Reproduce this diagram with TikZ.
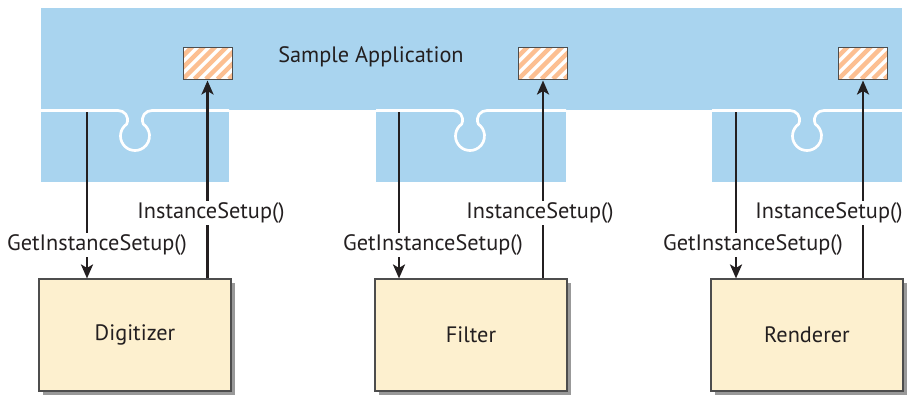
\documentclass[tikz,border=0pt]{standalone}
\usepackage{fontspec}
\setmainfont{PT Sans}
\usetikzlibrary{arrows.meta,shadows}
\definecolor{appblue}{HTML}{A9D4EF}
\definecolor{boxfill}{HTML}{FDF0CF}
\definecolor{ink}{HTML}{231F20}
\definecolor{stripe}{HTML}{FCBF92}
\definecolor{edge}{HTML}{4D4D4D}
\begin{document}
\begin{tikzpicture}[x=1pt,y=-1pt,
  txt/.style={font=\fontsize{22.3}{26}\selectfont, text=ink},
  lbl/.style={txt, fill=white, inner sep=1.5pt},
  comp/.style={txt, draw=edge, line width=1.1pt, fill=boxfill,
    minimum width=192pt, minimum height=112pt, inner sep=0pt,
    drop shadow={shadow xshift=4pt, shadow yshift=-4pt, fill=black!40, opacity=1}},
  slot/.style={draw=edge, line width=1pt, fill=white,
    minimum width=49pt, minimum height=32pt, inner sep=0pt,
    path picture={\foreach \k in {-5,...,5}
      \draw[stripe, line width=4.5pt]
        ([xshift=\k*11.5pt]path picture bounding box.south west) -- ++(45pt,45pt);}},
  call/.style={draw=ink, line width=2.9pt,
    -{Stealth[length=14pt, width=12pt, inset=3.5pt]}},
  seam/.style={draw=white, line width=2.7pt}
]
\useasboundingbox (0,0) rectangle (910,394);

% application bar and the three plug-in pieces below it
\fill[appblue] (41,8) rectangle (902,110);
\fill[appblue] (41,110) rectangle (229,182);
\fill[appblue] (376,110) rectangle (566,182);
\fill[appblue] (712,110) rectangle (902,182);

% puzzle seams with a round knob in each piece
\foreach \xa/\xb/\cx in {41/229/135, 376/566/470, 712/902/807} {
  \draw[seam] (\xa,110.5) -- (\cx-17,110.5)
    .. controls (\cx-11,110.5) and (\cx-5,116) .. ([shift={(235:14.5)}]\cx,136)
    arc[start angle=235, end angle=-55, radius=14.5]
    .. controls (\cx+5,116) and (\cx+11,110.5) .. (\cx+17,110.5)
    -- (\xb,110.5);
}

\node[txt] (app) at (371,57) {Sample Application};

% setup slots in the application
\node[slot] (s1) at (207.5,63) {};
\node[slot] (s2) at (543,63) {};
\node[slot] (s3) at (863,63) {};

% filter components
\node[comp] (dig) at (135,335) {Digitizer};
\node[comp] (fil) at (471,335) {Filter};
\node[comp] (ren) at (807,335) {Renderer};

% calls between application and components
\coordinate (d1) at (87,112);
\coordinate (d2) at (399,112);
\coordinate (d3) at (736,112);

\draw[call] (d1) -- (d1 |- dig.north);
\draw[call] (d2) -- (d2 |- fil.north);
\draw[call] (d3) -- (d3 |- ren.north);
\draw[call, shorten >=1pt] (s1.south |- dig.north) -- (s1.south);
\draw[call, shorten >=1pt] (s2.south |- fil.north) -- (s2.south);
\draw[call, shorten >=1pt] (s3.south |- ren.north) -- (s3.south);

\node[lbl] (i1) at (211,213) {InstanceSetup()};
\node[lbl] (i2) at (540,213) {InstanceSetup()};
\node[lbl] (i3) at (829,213) {InstanceSetup()};
\node[lbl] (g1) at (97,245) {GetInstanceSetup()};
\node[lbl] (g2) at (433,245) {GetInstanceSetup()};
\node[lbl] (g3) at (753,245) {GetInstanceSetup()};
\end{tikzpicture}
\end{document}
